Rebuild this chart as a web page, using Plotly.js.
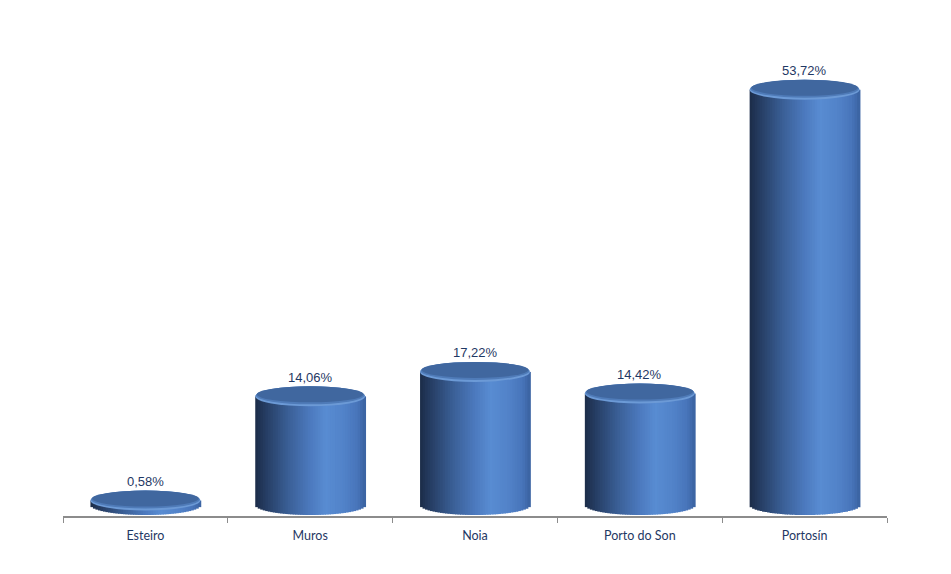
<!DOCTYPE html>
<html><head><meta charset="utf-8">
<script src="https://cdn.plot.ly/plotly-3.0.1.min.js"></script>
<style>html,body{margin:0;padding:0;background:#fff}#chart{width:951px;height:574px}</style>
</head><body><div id="chart"></div>
<script>
const categories = ['Esteiro', 'Muros', 'Noia', 'Porto do Son', 'Portosín'];
const values = [0.58, 14.06, 17.22, 14.42, 53.72];
const valueLabels = ['0,58%', '14,06%', '17,22%', '14,42%', '53,72%'];

// layout geometry (style only)
const yMin = -1.42, yMax = 57.57;
const plotH = 574 - 60 - 58;
const pxPerUnit = plotH / (yMax - yMin);
const hh = 10 / pxPerUnit;       // half-height of ellipse in data units
const barW = 0.667;              // cylinder width in category units
const N = 44;                    // vertical shading strips

// cylinder side gradient stops (position 0..1 -> rgb)
const stops = [
  [0.00, [28, 44, 72]],
  [0.10, [38, 62, 100]],
  [0.30, [58, 95, 150]],
  [0.50, [76, 122, 190]],
  [0.64, [88, 140, 210]],
  [0.80, [82, 131, 201]],
  [0.93, [72, 117, 186]],
  [1.00, [58, 98, 160]]
];
function grad(t) {
  for (let k = 0; k < stops.length - 1; k++) {
    const [a, ca] = stops[k], [b, cb] = stops[k + 1];
    if (t >= a && t <= b) {
      const f = (t - a) / (b - a);
      const c = ca.map((v, j) => Math.round(v + (cb[j] - v) * f));
      return `rgb(${c[0]},${c[1]},${c[2]})`;
    }
  }
  return 'rgb(58,98,160)';
}

const traces = [];
const sw = barW / N;
for (let i = 0; i < N; i++) {
  const t = (i + 0.5) / N;
  const xr = t * 2 - 1;
  const d = hh * Math.sqrt(Math.max(0, 1 - xr * xr));
  traces.push({
    type: 'bar',
    x: categories,
    y: values.map(v => v + d),
    base: -d,
    width: sw * 1.35,
    offset: -barW / 2 + i * sw,
    marker: { color: grad(t), line: { width: 0 } },
    hoverinfo: 'skip',
    showlegend: false
  });
}

const shapes = [];
categories.forEach((c, i) => {
  const v = values[i];
  shapes.push({ type: 'circle', xref: 'x', yref: 'y', x0: i - barW / 2, x1: i + barW / 2,
    y0: v - hh, y1: v + hh, fillcolor: '#6c9ad6', line: { width: 0 } });
  shapes.push({ type: 'circle', xref: 'x', yref: 'y', x0: i - barW / 2 + 0.004, x1: i + barW / 2 - 0.004,
    y0: v - hh + 2 / pxPerUnit, y1: v + hh, fillcolor: '#4f7bb8', line: { width: 0 } });
  shapes.push({ type: 'circle', xref: 'x', yref: 'y', x0: i - barW / 2 + 0.01, x1: i + barW / 2 - 0.01,
    y0: v - hh + 4 / pxPerUnit, y1: v + hh, fillcolor: '#40679f', line: { width: 0 } });
});

const annotations = categories.map((c, i) => ({
  x: c, y: values[i], xref: 'x', yref: 'y', text: valueLabels[i], showarrow: false,
  yshift: 19, font: { family: 'Liberation Sans, Arial, sans-serif', size: 13, color: '#1f3864' }
}));

const layout = {
  width: 951, height: 574,
  margin: { l: 63, r: 64, t: 60, b: 58 },
  paper_bgcolor: '#ffffff', plot_bgcolor: '#ffffff',
  barmode: 'overlay',
  showlegend: false,
  xaxis: {
    type: 'category', range: [-0.5, 4.5], tickson: 'boundaries',
    ticks: 'outside', ticklen: 5, tickcolor: '#8c8c8c', tickwidth: 1,
    ticklabelstandoff: 7,
    showline: true, linecolor: '#8c8c8c', linewidth: 1.5, showgrid: false, zeroline: false,
    tickfont: { family: 'Lato, Open Sans, sans-serif', size: 12.5, color: '#1f3864' },
    fixedrange: true
  },
  yaxis: { range: [yMin, yMax], visible: false, showgrid: false, zeroline: false, fixedrange: true },
  shapes: shapes,
  annotations: annotations
};

Plotly.newPlot('chart', traces, layout, { displayModeBar: false, staticPlot: true });
</script>
</body></html>
